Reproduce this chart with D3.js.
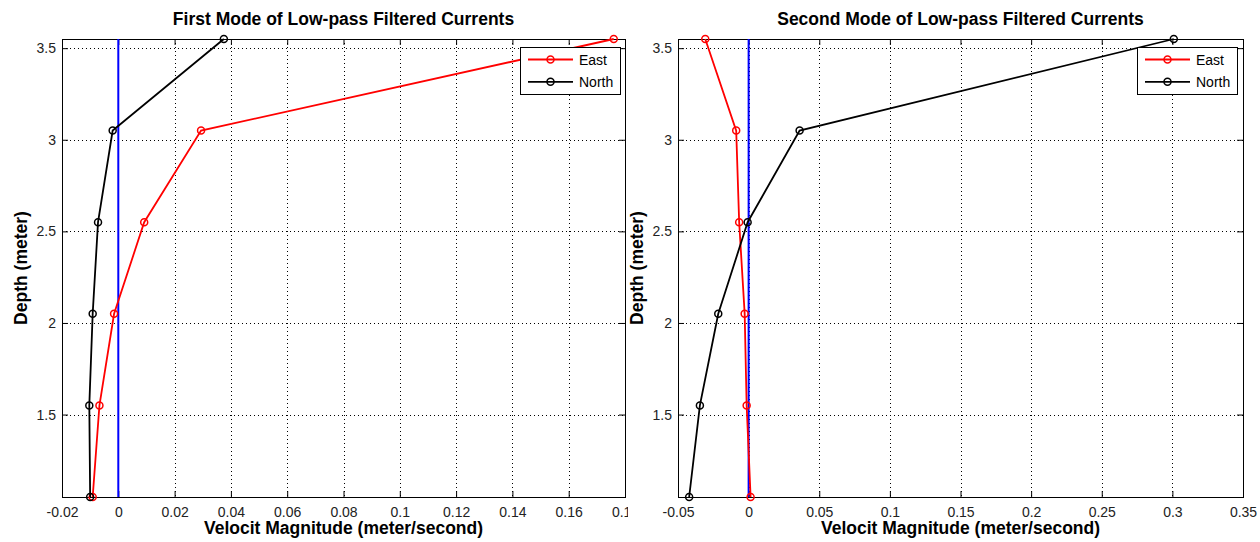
<!DOCTYPE html>
<html>
<head>
<meta charset="utf-8">
<script src="https://cdn.jsdelivr.net/npm/d3@7"></script>
<style>
	body { margin: 0; background: #fff; }
	svg { display: block; font-family: "Liberation Sans", Arial, Helvetica, sans-serif; }
	.tick text { fill: #222; font-size: 14px; }
	.grid line { stroke: #000; stroke-width: 1; stroke-dasharray: 1,3; }
</style>
</head>
<body>
<div id="chartDiv"></div>
<script>
;(function() {

	// depths of the six bins (meter)
	var depth = [1.05, 1.55, 2.05, 2.55, 3.05, 3.55];

	// first mode, velocity magnitude (meter/second)
	var mode1East  = [-0.0091, -0.0067, -0.0015, 0.0092, 0.0294, 0.1760];
	var mode1North = [-0.0100, -0.0103, -0.0091, -0.0072, -0.0020, 0.0375];

	// second mode
	var mode2East  = [0.0014, -0.0014, -0.0028, -0.0067, -0.0088, -0.0307];
	var mode2North = [-0.0421, -0.0345, -0.0215, -0.0007, 0.0361, 0.3010];

	var seriesNames = ["East", "North"];
	var seriesColors = ["#ff0000", "#000000"];

	var mode1Ticks = [-0.02, 0, 0.02, 0.04, 0.06, 0.08, 0.1, 0.12, 0.14, 0.16, 0.18];
	var mode2Ticks = [-0.05, 0, 0.05, 0.1, 0.15, 0.2, 0.25, 0.3, 0.35];
	var depthTicks = [1.5, 2, 2.5, 3, 3.5];

	var titles = ["First Mode of Low-pass Filtered Currents", "Second Mode of Low-pass Filtered Currents"];
	var xAxisLabelHeader = "Velocit Magnitude (meter/second)";
	var yAxisLabelHeader = "Depth (meter)";

	var width = 1260;
	var height = 542;
	var top = 39, bottom = 497;
	var circleRadius = 3.5;

	var chart = d3.select("#chartDiv").append("svg")
		.attr("width", width)
		.attr("height", height);

	chart.append("defs").append("clipPath")
		.attr("id", "leftClip")
		.append("rect")
		.attr("x", 0).attr("y", 0)
		.attr("width", 628).attr("height", height);

	drawPanel({
		left: 62, right: 625,
		xDomain: [-0.02, 0.18],
		xTicks: mode1Ticks,
		east: mode1East, north: mode1North,
		title: titles[0],
		legendX: 520,
		clip: "url(#leftClip)"
	});

	drawPanel({
		left: 678, right: 1243,
		xDomain: [-0.05, 0.35],
		xTicks: mode2Ticks,
		east: mode2East, north: mode2North,
		title: titles[1],
		legendX: 1137,
		clip: null
	});

	function fmt(v) {
		return String(+v.toFixed(3));
	}

	function drawPanel(cfg) {
		var g = chart.append("g");
		if (cfg.clip) g.attr("clip-path", cfg.clip);

		var xScale = d3.scaleLinear().domain(cfg.xDomain).range([cfg.left, cfg.right]);
		var yScale = d3.scaleLinear().domain([1.05, 3.55]).range([bottom, top]);

		// grid
		var grid = g.append("g").attr("class", "grid");
		grid.selectAll(".vgrid")
			.data(cfg.xTicks.filter(function(d) { return xScale(d) > cfg.left + 1 && xScale(d) < cfg.right - 1; }))
			.enter().append("line")
				.attr("x1", function(d) { return Math.round(xScale(d)) + 0.5; })
				.attr("x2", function(d) { return Math.round(xScale(d)) + 0.5; })
				.attr("y1", top)
				.attr("y2", bottom);
		grid.selectAll(".hgrid")
			.data(depthTicks)
			.enter().append("line")
				.attr("y1", function(d) { return Math.round(yScale(d)) + 0.5; })
				.attr("y2", function(d) { return Math.round(yScale(d)) + 0.5; })
				.attr("x1", cfg.left)
				.attr("x2", cfg.right);

		// axes with inward ticks
		var xAxis = d3.axisBottom(xScale)
			.tickValues(cfg.xTicks)
			.tickSize(-6)
			.tickPadding(10)
			.tickFormat(fmt);
		g.append("g")
			.attr("transform", "translate(0," + bottom + ")")
			.call(xAxis)
			.call(function(s) { s.select(".domain").remove(); });

		g.append("g")
			.attr("transform", "translate(0," + top + ")")
			.call(d3.axisTop(xScale).tickValues(cfg.xTicks).tickSize(-6).tickFormat(""))
			.call(function(s) { s.select(".domain").remove(); });

		var yAxis = d3.axisLeft(yScale)
			.tickValues(depthTicks)
			.tickSize(-6)
			.tickPadding(6)
			.tickFormat(fmt);
		g.append("g")
			.attr("transform", "translate(" + cfg.left + ",0)")
			.call(yAxis)
			.call(function(s) { s.select(".domain").remove(); });

		g.append("g")
			.attr("transform", "translate(" + cfg.right + ",0)")
			.call(d3.axisRight(yScale).tickValues(depthTicks).tickSize(-6).tickFormat(""))
			.call(function(s) { s.select(".domain").remove(); });

		g.selectAll(".tick line").attr("stroke", "#000");

		// box
		g.append("rect")
			.attr("x", cfg.left + 0.5)
			.attr("y", top + 0.5)
			.attr("width", cfg.right - cfg.left)
			.attr("height", bottom - top)
			.attr("fill", "none")
			.attr("stroke", "#000")
			.attr("stroke-width", 1);

		// zero line
		g.append("line")
			.attr("x1", xScale(0)).attr("x2", xScale(0))
			.attr("y1", top).attr("y2", bottom)
			.attr("stroke", "#0000ff")
			.attr("stroke-width", 2);

		var line = d3.line()
			.x(function(d) { return xScale(d.v); })
			.y(function(d) { return yScale(d.z); });

		[cfg.east, cfg.north].forEach(function(vals, i) {
			var pts = vals.map(function(v, j) { return { v: v, z: depth[j] }; });
			g.append("path")
				.datum(pts)
				.attr("d", line)
				.attr("fill", "none")
				.attr("stroke", seriesColors[i])
				.attr("stroke-width", 1.8);
			g.selectAll(".dot" + i)
				.data(pts)
				.enter().append("circle")
					.attr("cx", function(d) { return xScale(d.v); })
					.attr("cy", function(d) { return yScale(d.z); })
					.attr("r", circleRadius)
					.attr("fill", "none")
					.attr("stroke", seriesColors[i])
					.attr("stroke-width", 1.5);
		});

		// legend
		var lg = g.append("g").attr("transform", "translate(" + cfg.legendX + ",47)");
		lg.append("rect")
			.attr("x", 0.5).attr("y", 0.5)
			.attr("width", 100).attr("height", 47)
			.attr("fill", "#fff")
			.attr("stroke", "#000");
		seriesNames.forEach(function(name, i) {
			var yy = 12.5 + i * 22.3;
			lg.append("line")
				.attr("x1", 8).attr("x2", 53)
				.attr("y1", yy).attr("y2", yy)
				.attr("stroke", seriesColors[i])
				.attr("stroke-width", 1.8);
			lg.append("circle")
				.attr("cx", 30.5).attr("cy", yy)
				.attr("r", circleRadius)
				.attr("fill", "none")
				.attr("stroke", seriesColors[i])
				.attr("stroke-width", 1.5);
			lg.append("text")
				.attr("x", 59)
				.attr("y", yy + 5)
				.style("font-size", "14px")
				.attr("fill", "#000")
				.text(name);
		});

		// title
		g.append("text")
			.attr("x", (cfg.left + cfg.right) / 2)
			.attr("y", 25)
			.attr("text-anchor", "middle")
			.style("font-size", "17.5px")
			.style("font-weight", "bold")
			.text(cfg.title);

		// x label
		g.append("text")
			.attr("x", (cfg.left + cfg.right) / 2)
			.attr("y", 534)
			.attr("text-anchor", "middle")
			.style("font-size", "17.5px")
			.style("font-weight", "bold")
			.text(xAxisLabelHeader);

		// y label
		g.append("text")
			.attr("text-anchor", "middle")
			.attr("transform", "translate(" + (cfg.left - 35.5) + "," + ((top + bottom) / 2) + ") rotate(-90)")
			.style("font-size", "17.5px")
			.style("font-weight", "bold")
			.text(yAxisLabelHeader);
	}
})();
</script>
</body>
</html>
